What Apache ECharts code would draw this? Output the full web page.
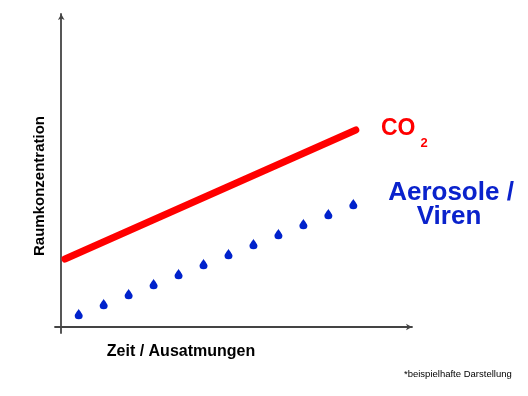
<!DOCTYPE html>
<html>
<head>
<meta charset="utf-8">
<script src="https://cdn.jsdelivr.net/npm/echarts@6/dist/echarts.min.js"></script>
<style>html,body{margin:0;padding:0;background:#fff}#c{width:528px;height:396px}</style>
</head>
<body>
<div id="c"></div>
<script>
// CO2 line (start/end)
const co2X = [0.15, 11.8];
const co2Y = [6.8, 19.7];
// Aerosol / virus droplets
const dropX = [0.7, 1.7, 2.7, 3.7, 4.7, 5.7, 6.7, 7.7, 8.7, 9.7, 10.7, 11.7];
const dropY = [1.3, 2.3, 3.3, 4.3, 5.3, 6.3, 7.3, 8.3, 9.3, 10.3, 11.3, 12.3];
const labels = { co2: 'CO', co2Sub: '2', aero1: 'Aerosole /', aero2: 'Viren',
  yName: 'Raumkonzentration', xName: 'Zeit / Ausatmungen', note: '*beispielhafte Darstellung' };

const FONT = '"Liberation Sans", Arial, sans-serif';
const chart = echarts.init(document.getElementById('c'));
const axisCommon = {
  type: 'value',
  axisLine: { show: true, onZero: true, symbol: ['none', 'arrow'], symbolSize: [5, 6],
    lineStyle: { color: '#444', width: 1.8 } },
  axisTick: { show: false }, axisLabel: { show: false }, splitLine: { show: false }
};
chart.setOption({
  animation: false,
  backgroundColor: '#fff',
  grid: { left: 55, top: 14, width: 357, height: 319 },
  xAxis: Object.assign({}, axisCommon, { min: -0.25, max: 14.05 }),
  yAxis: Object.assign({}, axisCommon, { min: -0.6, max: 31.3 }),
  series: [
    { type: 'line', data: co2X.map((x, i) => [x, co2Y[i]]), symbol: 'none',
      lineStyle: { color: '#ff0000', width: 7, cap: 'round' } },
    { type: 'scatter', data: dropX.map((x, i) => [x, dropY[i]]),
      symbol: 'path://M5 0 C4.5 2 0 7.5 0 10 A5 5 0 0 0 10 10 C10 7.5 5.5 2 5 0 Z',
      symbolSize: [8, 10.5], itemStyle: { color: '#0022cc', opacity: 1 } }
  ],
  graphic: [
    { type: 'text', x: 381, y: 128.5, style: { text: labels.co2, font: 'bold 23px ' + FONT,
      fill: '#ff0000', verticalAlign: 'middle', align: 'left' } },
    { type: 'text', x: 420.5, y: 143, style: { text: labels.co2Sub, font: 'bold 13px ' + FONT,
      fill: '#ff0000', verticalAlign: 'middle', align: 'left' } },
    { type: 'text', x: 451, y: 193, style: { text: labels.aero1, font: 'bold 26px ' + FONT,
      fill: '#0a22cc', verticalAlign: 'middle', align: 'center' } },
    { type: 'text', x: 449, y: 217, style: { text: labels.aero2, font: 'bold 26px ' + FONT,
      fill: '#0a22cc', verticalAlign: 'middle', align: 'center' } },
    { type: 'text', x: 40, y: 186, rotation: Math.PI / 2, style: { text: labels.yName,
      font: 'bold 15px ' + FONT, fill: '#000', verticalAlign: 'middle', align: 'center' } },
    { type: 'text', x: 181, y: 352, style: { text: labels.xName, font: 'bold 16px ' + FONT,
      fill: '#000', verticalAlign: 'middle', align: 'center' } },
    { type: 'text', x: 404, y: 374, style: { text: labels.note, font: '9.5px ' + FONT,
      fill: '#000', verticalAlign: 'middle', align: 'left' } }
  ]
});
</script>
</body>
</html>
